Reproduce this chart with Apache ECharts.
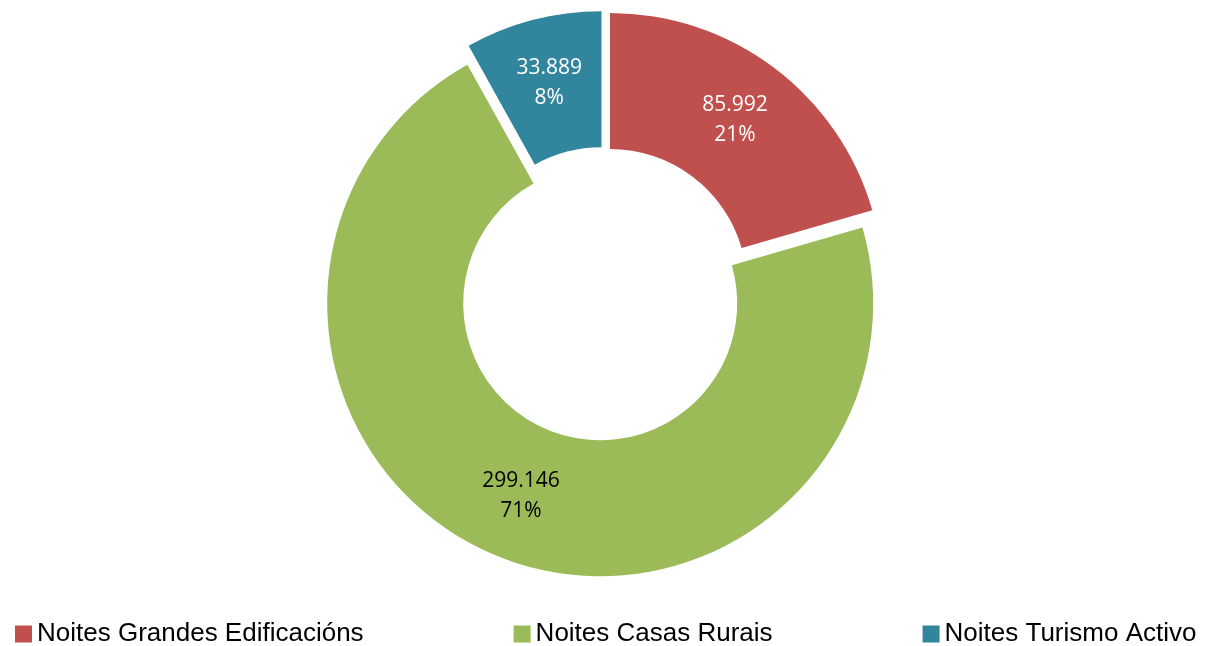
<!DOCTYPE html>
<html>
<head>
<meta charset="utf-8">
<script src="https://cdn.jsdelivr.net/npm/echarts@6/dist/echarts.min.js"></script>
<style>
  html, body { margin: 0; padding: 0; background: #fff; }
  #chart { width: 1209px; height: 646px; }
</style>
</head>
<body>
<div id="chart"></div>
<script>
const categories = ['Noites Grandes Edificacións', 'Noites Casas Rurais', 'Noites Turismo Activo']
const values = [85992, 299146, 33889]
const colors = ['#C0504D', '#9BBB59', '#31859C']
const labelColors = ['#ffffff', '#000000', '#ffffff']

// 85992 -> "85.992"
function fmtThousands(n) {
  return String(n).replace(/\B(?=(\d{3})+(?!\d))/g, '.')
}

const chart = echarts.init(document.getElementById('chart'))

chart.setOption({
  animation: false,
  color: colors,
  legend: {
    top: 616,
    left: 10,
    itemGap: 150,
    itemWidth: 17,
    itemHeight: 17,
    icon: 'rect',
    selectedMode: false,
    textStyle: {
      fontFamily: 'Liberation Sans',
      fontSize: 26,
      color: '#000'
    },
    data: categories
  },
  series: [{
    type: 'pie',
    center: [604, 294],
    radius: [137, 273],
    startAngle: 90,
    clockwise: true,
    selectedMode: 'multiple',
    selectedOffset: 10,
    select: { itemStyle: {} },
    emphasis: { disabled: true },
    labelLine: { show: false },
    label: {
      position: 'inside',
      fontFamily: 'Open Sans',
      fontSize: 21,
      lineHeight: 30,
      formatter: p => fmtThousands(p.value) + '\n' + Math.round(p.percent) + '%'
    },
    data: categories.map((name, i) => ({
      name: name,
      value: values[i],
      selected: true,
      itemStyle: { color: colors[i] },
      select: { itemStyle: { color: colors[i] } },
      label: { color: labelColors[i] }
    }))
  }]
})
</script>
</body>
</html>
